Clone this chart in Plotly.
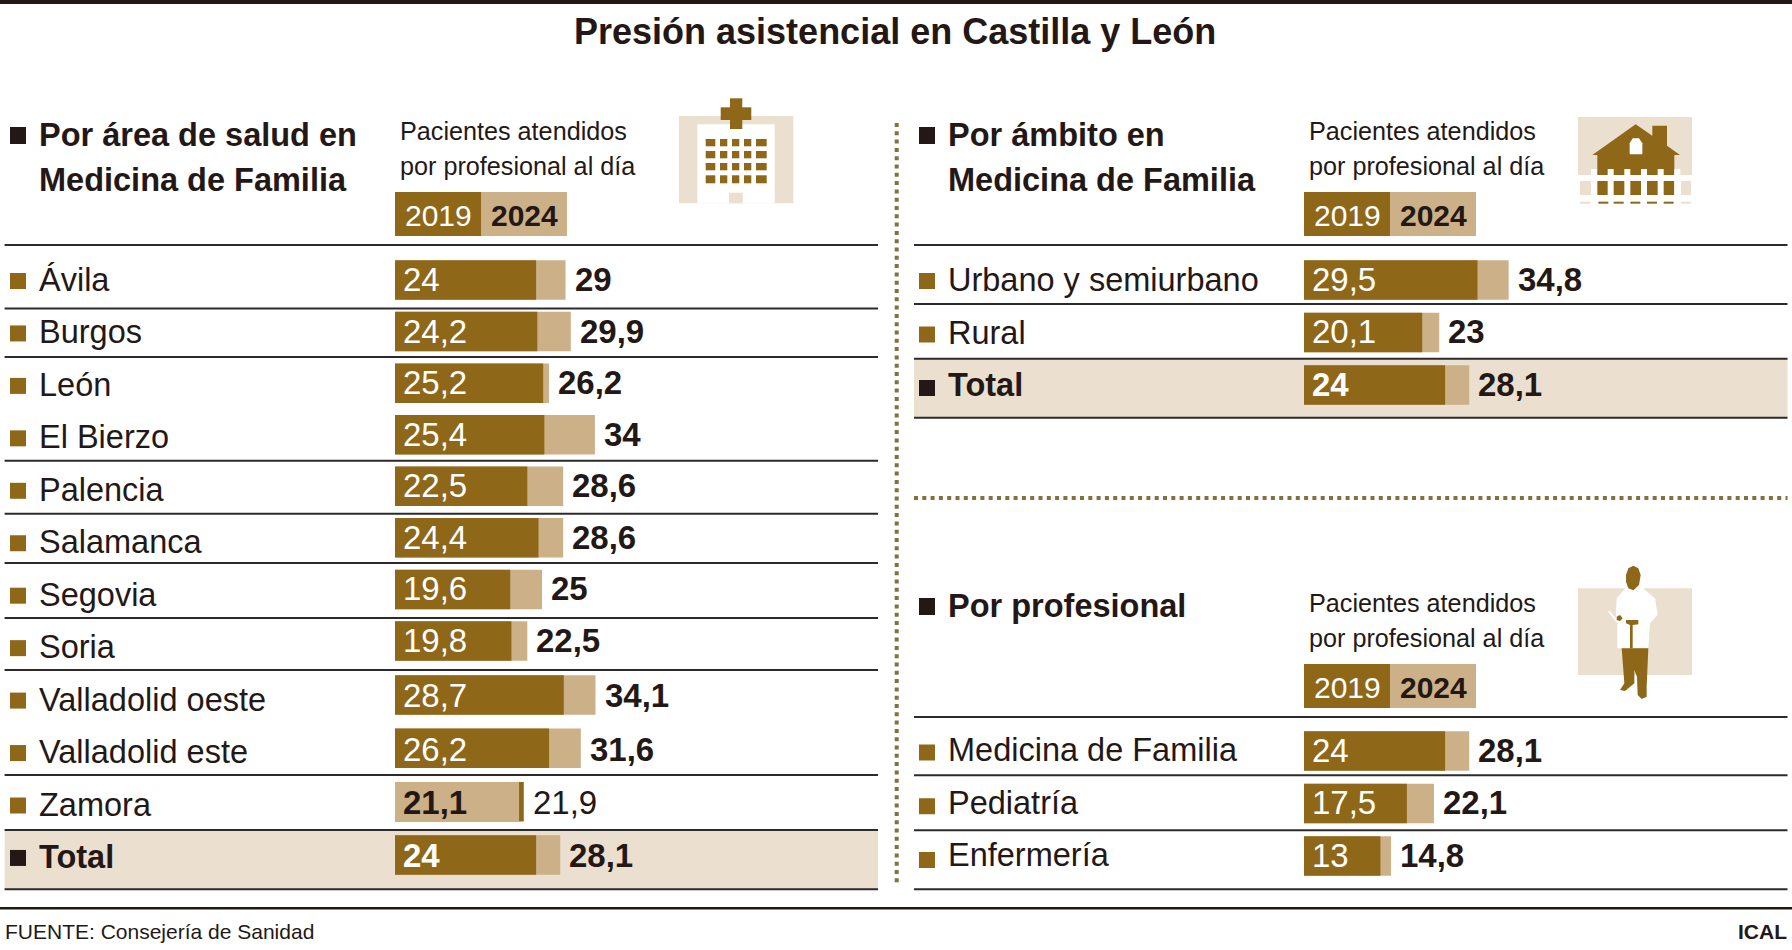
import plotly.graph_objects as go

# Data read from the graphic
area_labels = ["Ávila", "Burgos", "León", "El Bierzo", "Palencia", "Salamanca", "Segovia", "Soria",
               "Valladolid oeste", "Valladolid este", "Zamora", "Total"]
area_2019 = [24, 24.2, 25.2, 25.4, 22.5, 24.4, 19.6, 19.8, 28.7, 26.2, 21.9, 24]
area_2024 = [29, 29.9, 26.2, 34, 28.6, 28.6, 25, 22.5, 34.1, 31.6, 21.1, 28.1]

ambito_labels = ["Urbano y semiurbano", "Rural", "Total"]
ambito_2019 = [29.5, 20.1, 24]
ambito_2024 = [34.8, 23, 28.1]

prof_labels = ["Medicina de Familia", "Pediatría", "Enfermería"]
prof_2019 = [24, 17.5, 13]
prof_2024 = [28.1, 22.1, 14.8]

W, H = 1792, 950
DARK = "#8e6719"
LIGHT = "#cbb088"
PALE = "#ebdfcf"
INK = "#231815"
FONT = "Liberation Sans"
PX_PER_UNIT = 5.88
BAR_PX = 39.5

shapes = []
annotations = []
traces = []
layout_axes = {}


def px(x):
    return x / W


def py(y):
    return 1 - y / H


def rect(x0, y0, x1, y1, color, layer="below"):
    shapes.append(dict(type="rect", xref="paper", yref="paper", x0=px(x0), x1=px(x1), y0=py(y0), y1=py(y1),
                       fillcolor=color, line_width=0, layer=layer))


def rule(x0, x1, y, width=2, color="#2e2a2a"):
    shapes.append(dict(type="line", xref="paper", yref="paper", x0=px(x0), x1=px(x1), y0=py(y), y1=py(y),
                       line=dict(color=color, width=width), layer="above"))


def dotted(x0, y0, x1, y1):
    shapes.append(dict(type="line", xref="paper", yref="paper", x0=px(x0), x1=px(x1), y0=py(y0), y1=py(y1),
                       line=dict(color="#84703f", width=4, dash="4px,4.3px")))


def text(x, y, s, size=32.5, bold=False, color=INK, anchor="left"):
    annotations.append(dict(xref="paper", yref="paper", x=px(x), y=py(y), text=f"<b>{s}</b>" if bold else s,
                            showarrow=False, xanchor=anchor, yanchor="middle",
                            font=dict(family=FONT, size=size, color=color)))


def poly(ox, oy, pts, color):
    # points come from a 3x crop of the icon
    d = "M" + " L".join(f"{px(ox + a / 3):.5f},{py(oy + b / 3):.5f}" for a, b in pts) + " Z"
    shapes.append(dict(type="path", xref="paper", yref="paper", path=d, fillcolor=color, line_width=0))


def fmt(v):
    return f"{v:g}".replace(".", ",")


def bars(n, labels, v2019, v2024, x_left, x_right, first_center, pitch, shift=0):
    """One bar block on its own axes, pitch is the row height in pixels"""
    xname, yname = f"xaxis{n}", f"yaxis{n}"
    xa, ya = f"x{n}", f"y{n}"
    top = first_center - pitch / 2
    bottom = top + pitch * len(labels)
    layout_axes[xname] = dict(domain=[px(x_left), px(x_right)], range=[0, (x_right - x_left) / PX_PER_UNIT],
                              anchor=ya, visible=False, fixedrange=True)
    layout_axes[yname] = dict(domain=[py(bottom), py(top)], type="category", categoryorder="array",
                              categoryarray=labels, autorange="reversed", anchor=xa, visible=False, fixedrange=True)
    back = [max(a, b) for a, b in zip(v2019, v2024)]
    front = [min(a, b) for a, b in zip(v2019, v2024)]
    back_color = [LIGHT if a <= b else DARK for a, b in zip(v2019, v2024)]
    front_color = [DARK if a <= b else LIGHT for a, b in zip(v2019, v2024)]
    width = BAR_PX / pitch
    traces.append(go.Bar(x=back, y=labels, orientation="h", width=width, marker=dict(color=back_color, line_width=0),
                         xaxis=xa, yaxis=ya, showlegend=False))
    traces.append(go.Bar(x=front, y=labels, orientation="h", width=width, marker=dict(color=front_color, line_width=0),
                         xaxis=xa, yaxis=ya, showlegend=False))
    for lab, a, b in zip(labels, v2019, v2024):
        total = lab == "Total"
        swapped = a > b
        inside = f"<b>{fmt(min(a, b))}</b>" if total or swapped else fmt(min(a, b))
        outside = fmt(max(a, b)) if swapped else f"<b>{fmt(max(a, b))}</b>"
        annotations.append(dict(xref=xa, yref=ya, x=0, y=lab, text=inside, showarrow=False, xanchor="left", xshift=6,
                                yshift=shift, font=dict(family=FONT, size=33, color=INK if swapped else "white")))
        annotations.append(dict(xref=xa, yref=ya, x=max(a, b), y=lab, text=outside, showarrow=False, xanchor="left",
                                xshift=7, yshift=shift, font=dict(family=FONT, size=33, color=INK)))


def row_names(labels, x_sq, x_txt, first_sq, pitch_sq, first_txt, pitch_txt):
    for i, lab in enumerate(labels):
        y = first_sq + pitch_sq * i
        total = lab == "Total"
        rect(x_sq, y - 8, x_sq + 16, y + 8, INK if total else DARK)
        text(x_txt, first_txt + pitch_txt * i, lab, bold=total)


def header(x_sq, x_txt, lines, y_lines):
    rect(x_sq, y_lines[0] - 8, x_sq + 16, y_lines[0] + 9, INK)
    for s, y in zip(lines, y_lines):
        text(x_txt, y, s, size=32.5, bold=True)


def note(x, y):
    text(x + 2.5, y, "Pacientes atendidos", size=25.2)
    text(x + 2.5, y + 35, "por profesional al día", size=25.2)
    rect(x, y + 61, x + 86, y + 105, DARK)
    rect(x + 86, y + 61, x + 172, y + 105, LIGHT)
    text(x + 43, y + 84, "2019", size=30, color="white", anchor="center")
    text(x + 129, y + 84, "<b>2024</b>", size=30, anchor="center")


# Bars, the left block is split in two because its rows are not evenly spaced
bars(1, area_labels[:8], area_2019[:8], area_2024[:8], 395, 878, 280, 51.57, shift=0.5)
bars(2, area_labels[8:], area_2019[8:], area_2024[8:], 395, 878, 695, 53.33, shift=-1)
bars(3, ambito_labels, ambito_2019, ambito_2024, 1304, 1787, 280, 52.5, shift=1)
bars(4, prof_labels, prof_2019, prof_2024, 1304, 1787, 751, 52.5, shift=1)

# Frame and title
rect(0, 0, W, 4, INK)
text(W / 2 - 1, 31, "Presión asistencial en Castilla y León", size=36, bold=True, anchor="center")

# Total bands
rect(4.6, 830, 878, 889, PALE)
rect(914, 358.7, 1787.5, 417.7, PALE)

# Row rules
for y in [245, 308.5, 357, 460.7, 513.7, 563, 618, 670, 775, 830, 889.3]:
    rule(4.6, 878, y)
for y in [245, 304, 358.7, 417.7, 717, 775.3, 830.3, 889.3]:
    rule(914, 1787.5, y)
rule(0, W, 908.3, width=2.5, color=INK)

dotted(896.7, 123, 896.7, 885)
dotted(914, 498, 1787.5, 498)

row_names(area_labels, 10, 36.5, 281, 52.45, 280, 52.45)
row_names(ambito_labels, 919, 945.5, 281, 53.5, 280, 52.5)
row_names(prof_labels, 919, 945.5, 752.5, 53.75, 750, 52.6)

header(10, 36.5, ["Por área de salud en", "Medicina de Familia"], [135, 180])
header(919, 945.5, ["Por ámbito en", "Medicina de Familia"], [135, 180])
header(919, 945.5, ["Por profesional"], [606])

note(395, 131)
note(1304, 131)
note(1304, 603)

text(3, 931.5, "FUENTE: Consejería de Sanidad", size=21)
text(1789, 931.5, "<b>ICAL</b>", size=21, anchor="right")

# Hospital icon
rect(679, 116, 793.3, 203.3, PALE)
rect(697.3, 124.3, 774.7, 203.3, "white")
rect(729, 192.7, 742.7, 203.3, PALE)
rect(730, 98.3, 742.3, 129, DARK)
rect(720.7, 107.3, 751.3, 120, DARK)
for wy0, wy1 in [(139, 146.3), (151, 158.3), (163, 170.3), (175.3, 183.3)]:
    for wx0, wx1 in [(705.7, 715.3), (720, 727.3), (732, 739.3), (744, 751.3), (756, 766.7)]:
        rect(wx0, wy0, wx1, wy1, DARK)

# House icon
ox, oy = 1565, 105
rect(ox + 13, oy + 12, ox + 127, oy + 70, PALE)
rect(ox + 15, oy + 76, ox + 26, oy + 90, PALE)
rect(ox + 116, oy + 76, ox + 126, oy + 90, PALE)
poly(ox, oy, [(82, 150), (212, 58), (262, 92), (262, 62), (306, 62), (306, 122), (345, 150), (328, 150),
              (328, 270), (97, 270), (97, 150)], DARK)
poly(ox, oy, [(194, 148), (194, 115), (203, 100), (222, 100), (232, 115), (232, 148)], "white")
rect(ox + 13, oy + 70, ox + 127, oy + 76, "white", layer="above")
for a in [78, 128, 178, 228, 278, 328]:
    poly(ox, oy, [(a, 192), (a + 18, 192), (a + 18, 285), (a, 285)], "white")
for a in [100, 146, 196, 246, 296]:
    poly(ox, oy, [(a, 290), (a + 30, 290), (a + 30, 296), (a, 296)], DARK)
for a in [45, 348]:
    poly(ox, oy, [(a, 290), (a + 30, 290), (a + 30, 296), (a, 296)], PALE)

# Doctor icon
ox, oy = 1565, 555
rect(ox + 13, oy + 33.3, ox + 127, oy + 120, PALE)
poly(ox, oy, [(185, 95), (155, 130), (152, 190), (132, 165), (130, 172), (157, 205), (157, 280), (250, 280),
              (255, 205), (278, 180), (270, 130), (225, 92), (205, 106)], "white")
poly(ox, oy, [(183, 60), (190, 40), (205, 32), (220, 40), (227, 60), (222, 90), (205, 106), (190, 100), (183, 80)], DARK)
poly(ox, oy, [(170, 280), (250, 280), (245, 395), (245, 425), (230, 432), (218, 420), (216, 365), (208, 345),
              (208, 385), (180, 408), (165, 405), (178, 385)], DARK)
poly(ox, oy, [(183, 195), (220, 195), (220, 208), (203, 210), (203, 280), (195, 280), (195, 210), (183, 205)], DARK)
poly(ox, oy, [(155, 185), (165, 180), (173, 190), (165, 198), (155, 195)], DARK)

fig = go.Figure(data=traces)
fig.update_layout(width=W, height=H, margin=dict(l=0, r=0, t=0, b=0), barmode="overlay", paper_bgcolor="white",
                  plot_bgcolor="rgba(0,0,0,0)", shapes=shapes, annotations=annotations, **layout_axes)
fig.write_html("out.html", post_script="document.body.style.margin='0';", config=dict(displayModeBar=False))
